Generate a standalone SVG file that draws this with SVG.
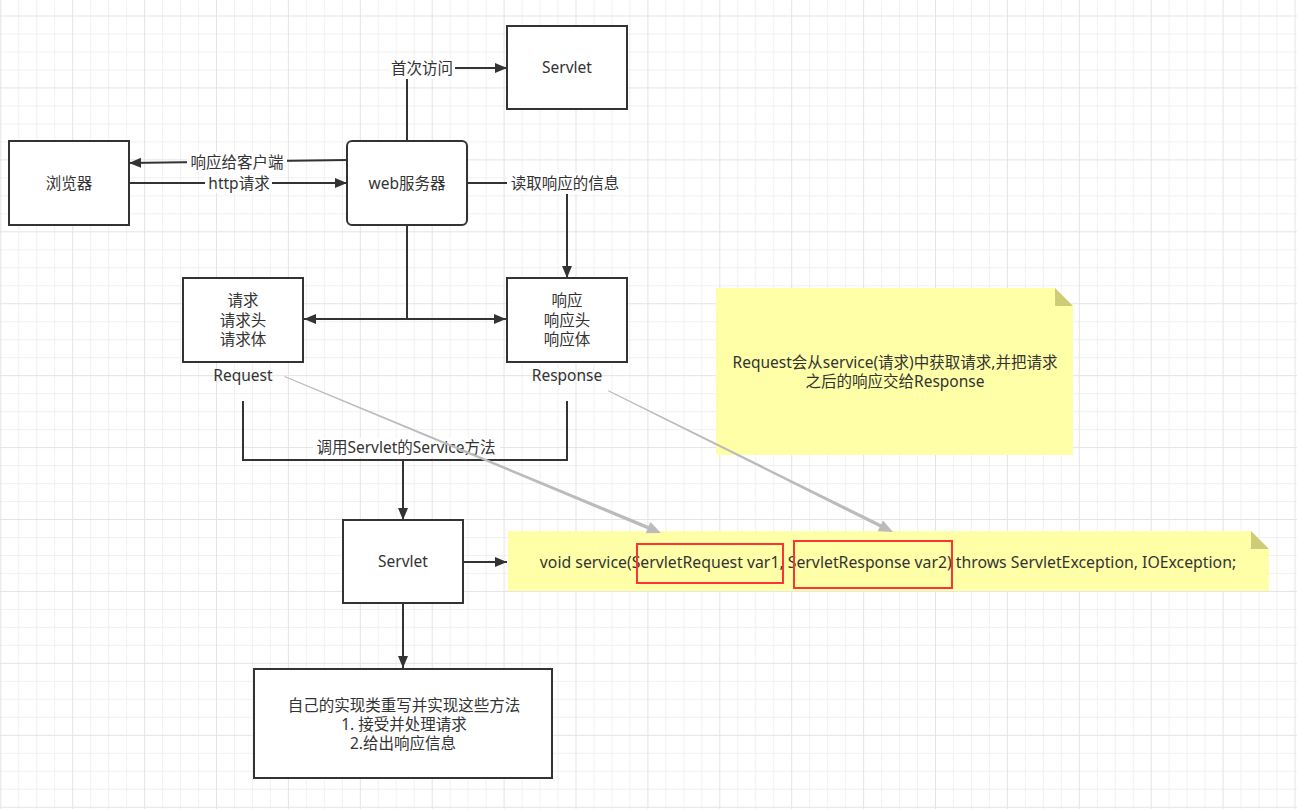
<svg xmlns="http://www.w3.org/2000/svg" width="1297" height="809" viewBox="0 0 1297 809">
<defs>
<pattern id="grid" patternUnits="userSpaceOnUse" x="0.3" y="15.5" width="71.9" height="71.93">
<rect x="17.975" y="0" width="1" height="71.93" fill="#f1f1f1"/>
<rect x="35.95" y="0" width="1" height="71.93" fill="#f1f1f1"/>
<rect x="53.925" y="0" width="1" height="71.93" fill="#f1f1f1"/>
<rect x="0" y="17.98" width="71.9" height="1" fill="#f1f1f1"/>
<rect x="0" y="35.96" width="71.9" height="1" fill="#f1f1f1"/>
<rect x="0" y="53.95" width="71.9" height="1" fill="#f1f1f1"/>
<rect x="0" y="0" width="1" height="71.93" fill="#e4e4e4"/>
<rect x="0" y="0" width="71.9" height="1" fill="#e4e4e4"/>
</pattern>
<marker id="arr" markerUnits="userSpaceOnUse" markerWidth="13" markerHeight="11" refX="12" refY="5" orient="auto">
<path d="M0,0 L12,5 L0,10 z" fill="#333"/>
</marker>
</defs>
<style>
.box{fill:#fff;stroke:#333;stroke-width:2}
.t{font-family:"Noto Sans","Noto Sans CJK SC",sans-serif;font-size:15.5px;fill:#333;text-anchor:middle;dominant-baseline:central}
.code{font-size:15.8px}
.c{fill:none;stroke:#333;stroke-width:2}
.a{marker-end:url(#arr)}
.lbg{fill:#fff}
.note{fill:#ffffa8}
.fold{fill:#cdcd79}
.red{fill:none;stroke:#f33;stroke-width:2}
.ga{fill:#bbb}
</style>
<rect width="1297" height="809" fill="#fff"/>
<rect width="1297" height="809" fill="url(#grid)"/>

<g id="connectors">
<path class="c a" d="M407,141 L407,68 L507,68"/>
<path class="c a" d="M347,160 L129,163"/>
<path class="c a" d="M129,183 L347,183"/>
<path class="c a" d="M467,183 L567,183 L567,278"/>
<path class="c" d="M407,225 L407,319"/>
<path class="c a" d="M407,319 L304,319"/>
<path class="c a" d="M407,319 L506,319"/>
<path class="c" d="M243,401 L243,460 L567,460 L567,401"/>
<path class="c a" d="M403,460 L403,520"/>
<path class="c a" d="M403,603 L403,668"/>
<path class="c a" d="M463,562 L507,562"/>
<rect class="lbg" x="389" y="58" width="66" height="21"/>
<text class="t" x="422" y="68">首次访问</text>
<rect class="lbg" x="187" y="152" width="100" height="20"/>
<text class="t" x="237" y="162">响应给客户端</text>
<rect class="lbg" x="205" y="173" width="67" height="20"/>
<text class="t" x="239" y="183">http请求</text>
<rect class="lbg" x="507" y="173" width="116" height="21"/>
<text class="t" x="565" y="183">读取响应的信息</text>
<rect class="lbg" x="313" y="438" width="187" height="19"/>
<text class="t" x="406" y="447">调用Servlet的Service方法</text>
</g>

<g id="servlet-top">
<rect class="box" x="507" y="26" width="120" height="83"/>
<text class="t" x="567" y="67">Servlet</text>
</g>
<g id="browser">
<rect class="box" x="9" y="141" width="120" height="84"/>
<text class="t" x="69" y="183">浏览器</text>
</g>
<g id="web-server">
<rect class="box" x="347" y="141" width="120" height="84" rx="5"/>
<text class="t" x="407" y="183">web服务器</text>
</g>
<g id="request">
<rect class="box" x="183" y="278" width="120" height="84"/>
<text class="t" x="243" y="300">请求</text>
<text class="t" x="243" y="320">请求头</text>
<text class="t" x="243" y="339">请求体</text>
<text class="t" x="243" y="375">Request</text>
</g>
<g id="response">
<rect class="box" x="507" y="278" width="120" height="84"/>
<text class="t" x="567" y="300">响应</text>
<text class="t" x="567" y="320">响应头</text>
<text class="t" x="567" y="339">响应体</text>
<text class="t" x="567" y="375">Response</text>
</g>
<g id="note-1">
<path class="note" d="M716,288 L1055,288 L1073,306 L1073,455 L716,455 z"/>
<path class="fold" d="M1055,288 L1073,306 L1055,306 z"/>
<text class="t" x="895" y="362">Request会从service(请求)中获取请求,并把请求</text>
<text class="t" x="895" y="381">之后的响应交给Response</text>
</g>
<g id="servlet-mid">
<rect class="box" x="343" y="520" width="120" height="83"/>
<text class="t" x="403" y="561">Servlet</text>
</g>
<g id="note-2">
<path class="note" d="M508,531 L1251,531 L1269,549 L1269,591 L508,591 z"/>
<path class="fold" d="M1251,531 L1269,549 L1251,549 z"/>
<text class="t code" x="888" y="562">void service(ServletRequest var1, ServletResponse var2) throws ServletException, IOException;</text>
<rect class="red" x="637" y="544" width="146" height="39"/>
<rect class="red" x="794" y="541" width="158" height="47"/>
</g>
<g id="impl">
<rect class="box" x="254" y="669" width="298" height="109"/>
<text class="t" x="404" y="705">自己的实现类重写并实现这些方法</text>
<text class="t" x="404" y="724">1. 接受并处理请求</text>
<text class="t" x="403" y="743">2.给出响应信息</text>
</g>
<g id="gray-arrows">
<polygon class="ga" points="284.69,376.04 648.74,526.01 650.37,522.09 661,533 645.77,533.17 647.40,529.25 284.31,376.96"/>
<polygon class="ga" points="608.52,390.25 881.24,524.21 883.13,520.41 893,532 877.79,531.15 879.68,527.35 608.08,391.15"/>
</g>
</svg>
